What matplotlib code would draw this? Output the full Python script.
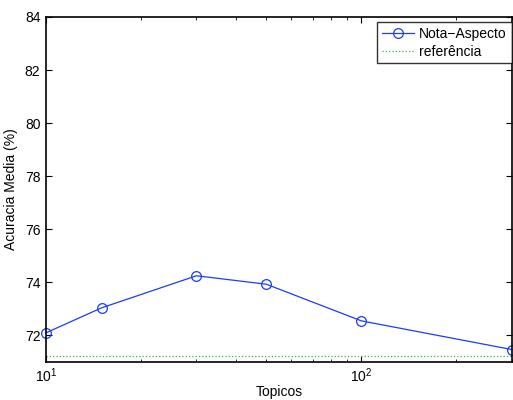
import matplotlib
matplotlib.use('Agg')
import matplotlib.pyplot as plt

topicos = [10, 15, 30, 50, 100, 300]
acuracia = [72.1, 73.04, 74.25, 73.93, 72.55, 71.47]
referencia = 71.22

plt.rcParams['font.family'] = ['Liberation Sans', 'DejaVu Sans']
plt.rcParams['font.size'] = 10

fig = plt.figure(figsize=(5.13, 4.0), dpi=100)
ax = fig.add_axes([0.0897, 0.095, 0.908, 0.8625])

ax.semilogx(topicos, acuracia, '-o', color='#1a3cff', lw=0.9, ms=7,
            mfc='none', mew=0.9, label='Nota\u2212Aspecto', clip_on=False)
ax.semilogx([topicos[0], topicos[-1]], [referencia, referencia], ':',
            color='#33bb33', lw=0.9, label='refer\u00eancia')

ax.set_xlim(10, 300)
ax.set_ylim(71, 84)
ax.set_yticks([72, 74, 76, 78, 80, 82, 84])
ax.tick_params(which='both', direction='in', top=True, right=True)
ax.tick_params(which='major', length=4)
ax.tick_params(axis='x', which='major', pad=3)
ax.tick_params(axis='y', which='major', pad=4)
ax.tick_params(which='minor', length=2)
for s in ax.spines.values():
    s.set_linewidth(1.2)

ax.set_xlabel('Topicos', labelpad=0)
ax.set_ylabel('Acuracia Media (%)', labelpad=5)

leg = ax.legend(loc='upper right', fancybox=False, edgecolor='black',
                bbox_to_anchor=(1.0, 0.985), borderaxespad=0.0,
                handlelength=2.3, borderpad=0.35,
                labelspacing=0.25, handletextpad=0.4)
leg.get_frame().set_linewidth(1.0)

fig.savefig('out.png', dpi=100)
